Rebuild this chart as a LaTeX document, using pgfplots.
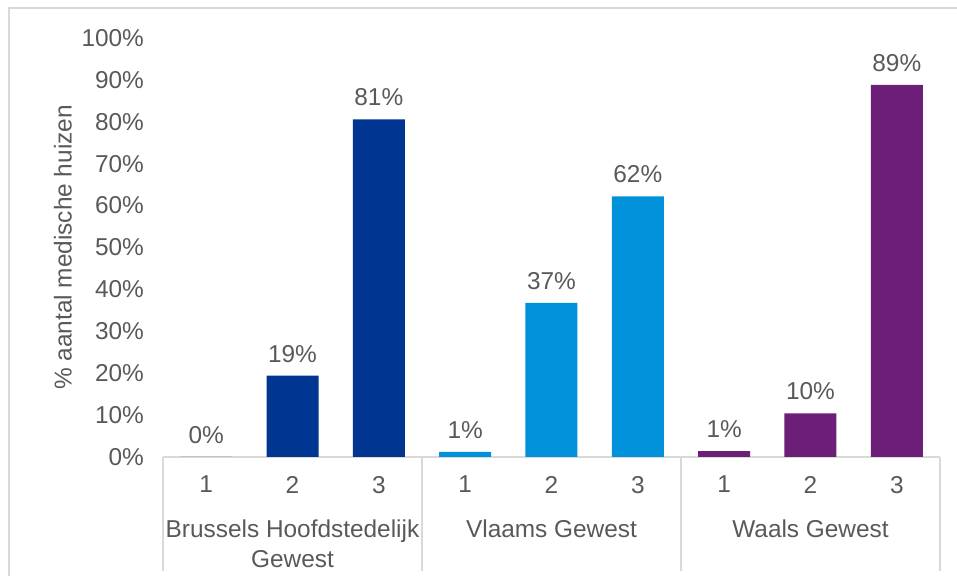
\documentclass[border=0pt]{standalone}
\usepackage{pgfplots}
\pgfplotsset{compat=1.18}
\usepackage{fontspec}
\setmainfont{Liberation Sans}
\definecolor{dblue}{HTML}{003591}
\definecolor{lblue}{HTML}{0091DA}
\definecolor{paars}{HTML}{6C1F76}
\definecolor{txt}{HTML}{595959}
\definecolor{lijn}{HTML}{D9D9D9}
\begin{document}
\begin{tikzpicture}
\useasboundingbox (0,0) rectangle (478.5pt,288pt);
\draw[lijn, line width=1pt] (4.5pt,-10pt) -- (4.5pt,284pt) -- (490pt,284pt);
\begin{axis}[
    at={(81.5pt,59.5pt)}, anchor=south west,
    scale only axis,
    width=388.5pt, height=209.5pt,
    xmin=0.5, xmax=9.5,
    ymin=0, ymax=100,
    ybar, bar width=26pt, bar shift=0pt,
    axis lines*=left,
    y axis line style={draw=none},
    x axis line style={draw=lijn, line width=1pt, -},
    ytick={0,10,...,100},
    yticklabel={\pgfmathprintnumber{\tick}\%},
    yticklabel style={text=txt, xshift=-6pt},
    xtick={1,...,9},
    xticklabels={1,2,3,1,2,3,1,2,3},
    xticklabel style={text=txt, yshift=-6pt},
    major tick length=0pt,
    /pgf/number format/assume math mode=true,
    clip=false,
    font=\fontsize{12.2}{15}\selectfont,
    ylabel={\% aantal medische huizen},
    ylabel style={text=txt, yshift=-2pt},
    nodes near coords,
    point meta=explicit symbolic,
    every node near coord/.append style={text=txt, font=\fontsize{12.2}{15}\selectfont, inner sep=6.5pt},
]
\addplot[draw=none, fill=dblue] coordinates {(1,0) [0\%] (2,19.4) [19\%] (3,80.6) [81\%]};
\addplot[draw=none, fill=lblue] coordinates {(4,1.2) [1\%] (5,36.8) [37\%] (6,62.2) [62\%]};
\addplot[draw=none, fill=paars] coordinates {(7,1.4) [1\%] (8,10.4) [10\%] (9,88.8) [89\%]};
\pgfplotsinvokeforeach{0.5,3.5,6.5,9.5}{
  \draw[lijn, line width=1pt] (axis cs:#1,0) -- ([yshift=-57pt]axis cs:#1,0);
}
\node[text=txt, align=center, anchor=north, inner sep=0pt] at (axis cs:2,0) [yshift=-31pt] {Brussels Hoofdstedelijk\\Gewest};
\node[text=txt, anchor=north, inner sep=0pt] at (axis cs:5,0) [yshift=-31pt] {Vlaams Gewest};
\node[text=txt, anchor=north, inner sep=0pt] at (axis cs:8,0) [yshift=-31pt] {Waals Gewest};
\end{axis}
\end{tikzpicture}
\end{document}
